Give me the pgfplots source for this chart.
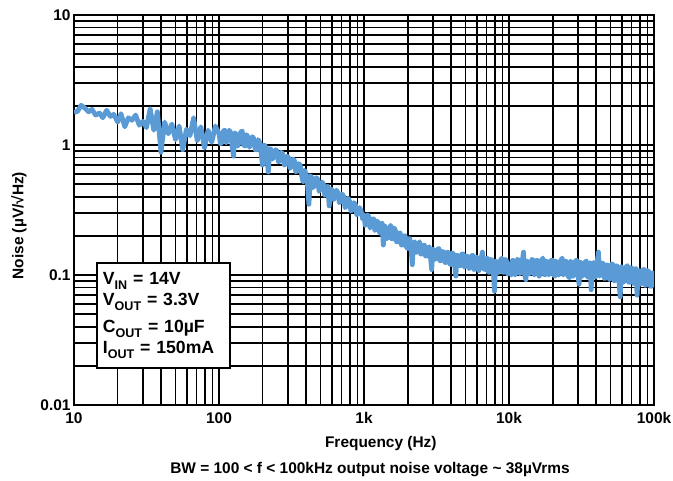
\documentclass[border=0pt]{standalone}
\usepackage{pgfplots}
\pgfplotsset{compat=1.18}
\usepackage{fontspec}
\setmainfont{Liberation Sans}
\definecolor{noiseblue}{HTML}{5B9BD5}
\newcommand{\sub}[1]{\raisebox{-5bp}{\fontsize{12.6}{14}\selectfont #1}}

\begin{document}
\begin{tikzpicture}
\begin{axis}[
  xmode=log, ymode=log,
  scale only axis,
  width=580bp, height=390bp,
  xmin=10, xmax=100000, ymin=0.01, ymax=10,
  xtick={10,100,1000,10000,100000},
  xticklabels={10,100,1k,10k,100k},
  ytick={0.01,0.1,1,10},
  yticklabels={0.01,0.1,1,10},
  minor xtick={20,30,40,50,60,70,80,90,200,300,400,500,600,700,800,900,2000,3000,4000,5000,6000,7000,8000,9000,20000,30000,40000,50000,60000,70000,80000,90000},
  minor ytick={0.02,0.03,0.04,0.05,0.06,0.07,0.08,0.09,0.2,0.3,0.4,0.5,0.6,0.7,0.8,0.9,2,3,4,5,6,7,8,9},
  grid=both,
  major grid style={black, line width=1.7pt},
  minor grid style={black, line width=1.7pt},
  major tick length=0pt, minor tick length=0pt,
  axis line style={black, line width=1.9pt},
  tick label style={font=\fontsize{15.5}{18}\selectfont\bfseries},
  xticklabel style={yshift=-4bp},
  xlabel={Frequency (Hz)},
  xlabel style={at={(axis description cs:0.529,0)}, anchor=base, yshift=-42bp,
    font=\fontsize{15.5}{18}\selectfont\bfseries},
  ylabel={Noise (µV/√Hz)},
  ylabel style={at={(axis description cs:-0.095,0.46)}, anchor=center,
    font=\fontsize{15.5}{18}\selectfont\bfseries},
]
\addplot[noiseblue, line width=4.8bp, line join=round] table {
f v
10.0 1.78
10.6 1.82
11.2 2.02
11.9 1.92
12.6 1.80
13.3 1.88
14.1 1.70
15.0 1.76
15.8 1.62
16.8 1.85
17.8 1.66
18.8 1.72
20.0 1.50
21.1 1.74
22.4 1.38
23.7 1.62
25.1 1.55
26.6 1.70
28.2 1.42
29.9 1.52
31.6 1.36
33.5 1.90
35.5 1.30
37.6 1.80
39.8 0.88
42.2 1.50
44.7 1.22
47.3 1.45
50.1 1.10
53.1 1.40
56.2 0.92
59.6 1.32
63.1 1.18
66.8 1.62
70.8 1.08
75.0 1.38
79.4 0.95
84.1 1.30
89.1 1.05
94.4 1.40
100 1.22
102.3 1.02
104.7 1.05
107.2 1.28
109.6 1.30
112.2 1.04
114.8 1.12
117.5 1.30
120.2 1.25
123.0 1.00
125.9 0.82
128.8 1.24
131.8 1.20
134.9 0.98
138.0 1.08
141.3 1.26
144.5 1.28
147.9 1.00
151.4 0.98
154.9 1.20
158.5 1.15
162.2 0.96
166.0 1.04
169.8 1.16
173.8 1.12
177.8 0.92
182.0 0.92
186.2 1.10
190.5 1.05
195.0 0.88
199.5 0.70
204.2 1.00
208.9 0.98
213.8 0.82
218.8 0.62
223.9 0.94
229.1 0.92
234.4 0.78
239.9 0.84
245.5 0.92
251.2 0.90
257.0 0.74
263.0 0.76
269.2 0.88
275.4 0.85
281.8 0.70
288.4 0.72
295.1 0.82
302.0 0.80
309.0 0.66
316.2 0.70
323.6 0.78
331.1 0.76
338.8 0.62
346.7 0.64
354.8 0.72
363.1 0.70
371.5 0.58
380.2 0.52
389.0 0.64
398.1 0.60
407.4 0.50
416.9 0.35
426.6 0.58
436.5 0.56
446.7 0.47
457.1 0.50
467.7 0.56
478.6 0.55
489.8 0.44
501.2 0.46
512.9 0.52
524.8 0.50
537.0 0.41
549.5 0.42
562.3 0.48
575.4 0.34
588.8 0.46
602.6 0.45
616.6 0.38
631.0 0.40
645.7 0.45
660.7 0.43
676.1 0.36
691.8 0.37
707.9 0.42
724.4 0.40
741.3 0.33
758.6 0.34
776.2 0.39
794.3 0.37
812.8 0.31
831.8 0.32
851.1 0.36
871.0 0.35
891.3 0.29
912.0 0.30
933.3 0.33
955.0 0.31
977.2 0.27
1000 0.29
1019 0.24
1039 0.25
1059 0.29
1080 0.28
1101 0.23
1122 0.24
1143 0.27
1166 0.27
1188 0.22
1212 0.23
1235 0.26
1259 0.25
1283 0.21
1308 0.22
1333 0.25
1359 0.17
1385 0.24
1413 0.23
1440 0.19
1468 0.20
1496 0.22
1525 0.24
1554 0.19
1585 0.19
1615 0.23
1647 0.22
1679 0.18
1711 0.18
1744 0.21
1778 0.21
1812 0.17
1848 0.17
1883 0.20
1920 0.20
1957 0.165
1995 0.16
2033 0.19
2073 0.19
2113 0.155
2154 0.12
2195 0.175
2239 0.18
2282 0.15
2326 0.15
2371 0.172
2417 0.18
2464 0.145
2512 0.145
2560 0.168
2610 0.17
2660 0.14
2712 0.14
2764 0.16
2818 0.165
2873 0.138
2929 0.11
2985 0.158
3043 0.155
3102 0.132
3162 0.135
3223 0.158
3286 0.16
3349 0.128
3415 0.13
3481 0.152
3548 0.15
3617 0.125
3687 0.125
3758 0.15
3831 0.148
3905 0.122
3981 0.12
4058 0.148
4137 0.145
4217 0.12
4299 0.098
4382 0.142
4467 0.14
4553 0.118
4642 0.118
4732 0.145
4824 0.145
4917 0.115
5012 0.12
5109 0.14
5208 0.138
5309 0.112
5412 0.115
5517 0.14
5623 0.142
5732 0.11
5843 0.112
5956 0.138
6072 0.135
6189 0.108
6310 0.118
6432 0.135
6556 0.15
6683 0.112
6813 0.11
6945 0.132
7079 0.135
7216 0.105
7356 0.105
7499 0.132
7644 0.13
7792 0.11
7943 0.075
8097 0.128
8254 0.125
8414 0.104
8577 0.108
8743 0.13
8913 0.135
9086 0.105
9261 0.105
9441 0.132
9624 0.128
9810 0.102
10000 0.122
10190 0.104
10390 0.10
10590 0.13
10800 0.128
11010 0.10
11220 0.105
11430 0.132
11660 0.13
11880 0.102
12120 0.108
12350 0.128
12590 0.15
12830 0.10
13080 0.092
13330 0.128
13590 0.125
13850 0.102
14130 0.11
14400 0.132
14680 0.13
14960 0.10
15250 0.105
15540 0.13
15850 0.128
16150 0.098
16470 0.112
16790 0.13
17110 0.135
17440 0.102
17780 0.10
18120 0.128
18480 0.125
18830 0.10
19200 0.108
19570 0.13
19950 0.13
20330 0.10
20730 0.098
21130 0.128
21540 0.122
21950 0.10
22390 0.11
22820 0.13
23260 0.135
23710 0.10
24170 0.104
24640 0.128
25120 0.125
25600 0.098
26100 0.095
26600 0.128
27120 0.12
27640 0.098
28180 0.108
28730 0.128
29290 0.13
29850 0.10
30430 0.085
31020 0.126
31620 0.122
32230 0.098
32860 0.105
33490 0.126
34150 0.128
34810 0.096
35480 0.10
36170 0.124
36870 0.077
37580 0.12
38310 0.125
39050 0.096
39810 0.098
40580 0.126
41370 0.15
42170 0.098
42990 0.105
43820 0.124
44670 0.122
45530 0.094
46420 0.095
47320 0.12
48240 0.118
49170 0.092
50120 0.10
51090 0.122
52080 0.12
53090 0.09
54120 0.092
55170 0.118
56230 0.115
57320 0.09
58430 0.068
59560 0.116
60720 0.112
61890 0.088
63100 0.095
64320 0.116
65560 0.118
66830 0.088
68130 0.088
69450 0.114
70790 0.112
72160 0.086
73560 0.09
74990 0.112
76440 0.07
77920 0.108
79430 0.108
80970 0.085
82540 0.088
84140 0.11
85770 0.11
87430 0.083
89130 0.085
90860 0.108
92610 0.105
94410 0.082
96240 0.082
98100 0.104
100000 0.10
};
\node[draw=black, fill=white, line width=1.7pt, anchor=north west,
  minimum width=133bp, minimum height=105bp, text width=121bp, inner xsep=6bp,
  align=left, font=\fontsize{17.7}{21.5}\selectfont\bfseries]
  at (axis cs:14.2,0.126)
  {V\sub{IN} = 14V\\V\sub{OUT} = 3.3V\\[5bp]C\sub{OUT} = 10µF\\I\sub{OUT} = 150mA};
\end{axis}
\node[anchor=base, font=\fontsize{15.5}{18}\selectfont\bfseries]
  at ([xshift=296bp, yshift=-68bp]current axis.south west)
  {BW = 100 < f < 100kHz output noise voltage \textasciitilde{} 38µVrms};
\pgfresetboundingbox
\path[use as bounding box] ([xshift=-74bp, yshift=-76bp]current axis.south west)
  rectangle ([xshift=599bp, yshift=405bp]current axis.south west);
\end{tikzpicture}
\end{document}
